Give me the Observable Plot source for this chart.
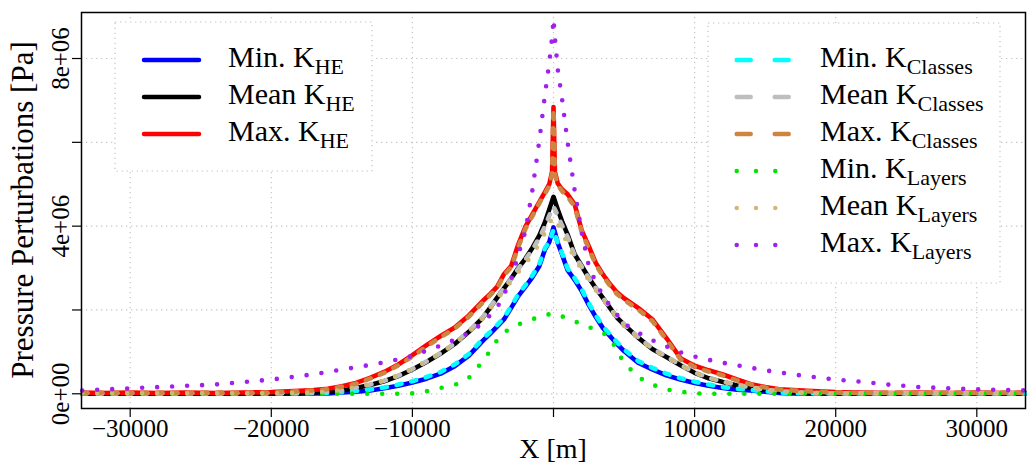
<!DOCTYPE html>
<html><head><meta charset="utf-8">
<script src="https://cdn.jsdelivr.net/npm/d3@7"></script>
<script src="https://cdn.jsdelivr.net/npm/@observablehq/plot@0.6"></script>
<style>
html,body{margin:0;padding:0;background:#fff;}
#chart svg{display:block;}
</style></head><body><div id="chart"></div>
<script>
// x positions [m]
const X = [-33400,-32000,-30000,-28000,-26000,-24000,-22000,-20000,
  -18000,-17000,-16000,-15000,-14000,-13000,-12000,-11000,-10000,
  -9000,-8000,-7000,-6000,-5000,
  -4500,-4000,-3500,-3000,-2500,-2000,-1500,-1000,
  -600,-300,-100,
  0,
  100,300,600,
  1000,1500,2000,2500,3000,3500,4000,4500,
  5000,6000,7000,8000,9000,
  10000,11000,12000,13000,14000,15000,16000,17000,18000,
  20000,22000,24000,26000,28000,30000,32000,33400];

// pressure perturbations, in units of 1e6 Pa
const minHE = [0,0,0,0,0,0,0,0,
  0,0.01,0.01,0.03,0.05,0.08,0.13,0.19,0.27,
  0.36,0.48,0.66,0.91,1.27,
  1.43,1.60,1.78,2.05,2.33,2.55,2.78,3.05,
  3.45,3.62,3.85,
  3.97,
  3.85,3.60,3.33,
  2.95,2.72,2.45,2.12,1.83,1.57,1.38,1.19,
  1.02,0.74,0.58,0.44,0.34,
  0.26,0.19,0.14,0.10,0.08,0.05,0.02,0.01,0,
  0,0,0,0,0,0,0,0];
const meanHE = [0.01,0.01,0.01,0.01,0.01,0.01,0.01,0.01,
  0.02,0.03,0.04,0.07,0.14,0.21,0.30,0.42,0.58,
  0.76,0.96,1.19,1.48,1.82,
  2.05,2.29,2.52,2.75,3.00,3.22,3.48,3.78,
  4.10,4.40,4.60,
  4.70,
  4.60,4.40,4.12,
  3.80,3.33,3.05,2.77,2.52,2.29,2.05,1.82,
  1.65,1.34,1.07,0.88,0.68,
  0.50,0.37,0.28,0.20,0.14,0.09,0.05,0.03,0.02,
  0.01,0.01,0.01,0.01,0.01,0.01,0.01,0.01];
const maxHE = [0.03,0.02,0.03,0.02,0.03,0.02,0.03,0.04,
  0.07,0.09,0.12,0.18,0.26,0.38,0.52,0.70,0.92,
  1.16,1.38,1.58,1.87,2.22,
  2.38,2.55,2.86,3.05,3.56,3.98,4.28,4.58,
  4.82,5.00,5.30,
  6.84,
  5.30,5.02,4.88,
  4.76,4.52,3.90,3.52,3.12,2.85,2.62,2.42,
  2.28,2.05,1.78,1.33,0.85,
  0.67,0.56,0.46,0.34,0.23,0.16,0.11,0.09,0.07,
  0.04,0.03,0.02,0.03,0.02,0.03,0.02,0.03];
const minClasses = [0.01,0.01,0.01,0.01,0.01,0.01,0.01,0.01,
  0.01,0.02,0.02,0.04,0.07,0.10,0.15,0.22,0.30,
  0.40,0.52,0.70,0.95,1.31,
  1.47,1.64,1.82,2.09,2.37,2.59,2.82,3.10,
  3.48,3.62,3.82,
  3.92,
  3.82,3.60,3.36,
  2.99,2.76,2.49,2.16,1.87,1.61,1.42,1.23,
  1.06,0.78,0.62,0.48,0.37,
  0.29,0.22,0.16,0.12,0.09,0.06,0.03,0.02,0.01,
  0.01,0.01,0.01,0.01,0.01,0.01,0.01,0.01];
const meanClasses = [0.02,0.01,0.02,0.01,0.02,0.01,0.02,0.01,
  0.02,0.03,0.05,0.08,0.15,0.22,0.31,0.43,0.59,
  0.77,0.97,1.20,1.49,1.83,
  2.06,2.29,2.52,2.74,2.98,3.20,3.44,3.72,
  4.00,4.25,4.40,
  4.46,
  4.40,4.25,4.02,
  3.74,3.30,3.03,2.76,2.52,2.29,2.05,1.83,
  1.66,1.35,1.08,0.89,0.69,
  0.51,0.38,0.29,0.21,0.15,0.10,0.06,0.04,0.02,
  0.01,0.02,0.01,0.02,0.01,0.02,0.01,0.02];
const maxClasses = [0.02,0.03,0.02,0.03,0.02,0.03,0.02,0.03,
  0.06,0.08,0.11,0.17,0.24,0.36,0.50,0.68,0.89,
  1.13,1.35,1.56,1.84,2.18,
  2.35,2.52,2.83,3.02,3.50,3.93,4.24,4.55,
  4.78,4.96,5.25,
  6.80,
  5.25,4.98,4.84,
  4.70,4.47,3.86,3.47,3.08,2.81,2.58,2.38,
  2.24,2.01,1.74,1.29,0.82,
  0.64,0.53,0.44,0.32,0.22,0.15,0.10,0.08,0.06,
  0.03,0.02,0.03,0.02,0.03,0.02,0.03,0.02];
const minLayers = [0,0,0,0,0,0,0,0,
  0,0,0,0,0,0,0,0,0.01,
  0.06,0.14,0.21,0.38,0.78,
  1.02,1.28,1.47,1.56,1.65,1.72,1.78,1.83,
  1.87,1.90,1.91,
  1.92,
  1.91,1.89,1.85,
  1.79,1.73,1.66,1.59,1.53,1.45,1.35,1.02,
  0.74,0.40,0.22,0.10,0.05,
  0.01,0,0,0,0,0,0,0,0,
  0,0,0,0,0,0,0,0];
const meanLayers = [0.01,0.01,0.01,0.01,0.01,0.01,0.01,0.01,
  0.02,0.03,0.05,0.09,0.16,0.23,0.32,0.44,0.60,
  0.78,0.97,1.19,1.47,1.80,
  2.02,2.25,2.47,2.68,2.90,3.10,3.32,3.58,
  3.85,4.05,4.18,
  4.22,
  4.18,4.05,3.85,
  3.58,3.22,2.97,2.71,2.47,2.25,2.02,1.80,
  1.62,1.32,1.06,0.87,0.67,
  0.50,0.38,0.29,0.21,0.15,0.10,0.06,0.04,0.02,
  0.01,0.01,0.01,0.01,0.01,0.01,0.01,0.01];
const maxLayers = [0.08,0.10,0.13,0.16,0.19,0.22,0.28,0.34,
  0.42,0.47,0.52,0.58,0.63,0.69,0.75,0.82,0.90,
  1.03,1.15,1.29,1.45,1.69,
  1.87,2.05,2.38,2.73,3.31,3.87,4.85,6.05,
  7.15,7.90,8.50,
  8.95,
  8.50,7.75,7.05,
  6.00,4.85,3.85,3.05,2.66,2.35,2.10,1.89,
  1.68,1.46,1.28,1.13,0.99,
  0.89,0.81,0.74,0.68,0.62,0.56,0.51,0.46,0.42,
  0.34,0.28,0.21,0.16,0.13,0.105,0.09,0.08];

const seriesValues = [minHE, meanHE, maxHE, minClasses, meanClasses, maxClasses, minLayers, meanLayers, maxLayers];
const seriesPrefix = ["Min. K","Mean K","Max. K","Min. K","Mean K","Max. K","Min. K","Mean K","Max. K"];
const seriesSub = ["HE","HE","HE","Classes","Classes","Classes","Layers","Layers","Layers"];
const seriesColors = ["#0000ff","#000000","#ff0000","#00ffff","#bebebe","#cd853f","#00e600","#cfb874","#a020f0"];
const seriesStyle = ["solid","solid","solid","dashed","dashed","dashed","dotted","dotted","dotted"];

const xTicks = [-30000,-20000,-10000,0,10000,20000,30000];
const xTickLabels = ["\u221230000","\u221220000","\u221210000","","10000","20000","30000"];
const yTicks = [0,2e6,4e6,6e6,8e6];
const yTickLabels = ["0e+00","","4e+06","","8e+06"];

const FONT = "'Liberation Serif', 'Times New Roman', serif";

const rows = seriesValues.flatMap((vals,i)=>vals.map((v,j)=>({s:i, x:X[j], y:v*1e6})));

const dataDash = {solid: undefined, dashed: "5 10", dotted: "0 15"};
const legendDash = {solid: undefined, dashed: "14 24", dotted: "0 19.3"};

const lineMarks = seriesValues.map((_,i)=>Plot.line(rows.filter(r=>r.s===i), {
  x:"x", y:"y", stroke: seriesColors[i], strokeWidth: 4.6,
  strokeDasharray: dataDash[seriesStyle[i]], strokeLinecap:"round", strokeLinejoin:"round"
}));

const gridStyle = {stroke:"#c4c4c4", strokeWidth:1.2, strokeDasharray:"1.3 3.7"};

const chart = Plot.plot({
  width: 1027, height: 464,
  marginLeft: 81, marginRight: 2, marginTop: 12, marginBottom: 56,
  style: {fontFamily: FONT, fontSize: "25px", background: "#fff", color: "#000", overflow: "visible"},
  x: {domain: [-33450, 33450]},
  y: {domain: [-0.351e6, 9.098e6]},
  marks: [
    Plot.ruleX(xTicks, gridStyle),
    Plot.ruleY(yTicks, gridStyle),
    ...lineMarks,
    Plot.frame({stroke:"#000", strokeWidth:1.5}),
    Plot.axisX(xTicks, {tickSize: 9, tickPadding: 2, strokeWidth: 1.2, fontFamily: FONT, fontSize: 25,
      tickFormat: d => xTickLabels[xTicks.indexOf(d)], label: null}),
    Plot.axisY(yTicks, {tickSize: 9, strokeWidth: 1.2, tickFormat: () => "", label: null}),
    Plot.text(yTicks.map((v,i)=>({v, t: yTickLabels[i]})), {
      y: "v", text: "t", frameAnchor: "left", dx: -13, rotate: -90, fontFamily: FONT,
      textAnchor: "middle", lineAnchor: "bottom", fontSize: 25})
  ]
});
document.getElementById("chart").appendChild(chart);

// legends and axis titles
const svg = d3.select(chart);
function legend(box, idx, symX0, symX1, textX, rowY0) {
  const g = svg.append("g");
  g.append("rect").attr("x", box[0]).attr("y", box[1]).attr("width", box[2]).attr("height", box[3])
    .attr("fill", "#fff").attr("stroke", "#c4c4c4").attr("stroke-width", 1.2).attr("stroke-dasharray", "1.3 3.7");
  idx.forEach((i, k) => {
    const y = rowY0 + 37 * k;
    const ln = g.append("line").attr("x1", symX0).attr("x2", symX1).attr("y1", y).attr("y2", y)
      .attr("stroke", seriesColors[i]).attr("stroke-width", 4.5).attr("stroke-linecap", "round");
    if (legendDash[seriesStyle[i]]) ln.attr("stroke-dasharray", legendDash[seriesStyle[i]]);
    const t = g.append("text").attr("x", textX).attr("y", y + 7).attr("font-size", 30)
      .attr("fill", "#000").attr("text-anchor", "start");
    t.append("tspan").text(seriesPrefix[i]);
    t.append("tspan").attr("font-size", 22).attr("dy", 6.5).text(seriesSub[i]);
  });
}
legend([115, 22, 257, 149], [0,1,2], 144, 199, 228, 60);
legend([708, 23, 292, 260], [3,4,5,6,7,8], 736.7, 790, 820, 60);

svg.append("text").attr("transform", "translate(33,210) rotate(-90)").attr("text-anchor", "middle")
  .attr("font-size", 31).attr("fill", "#000").text("Pressure Perturbations [Pa]");
svg.append("text").attr("x", 553).attr("y", 458).attr("text-anchor", "middle")
  .attr("font-size", 28).attr("fill", "#000").text("X [m]");
svg.selectAll("text").attr("font-family", FONT).style("font-family", FONT);
</script>
</body></html>
